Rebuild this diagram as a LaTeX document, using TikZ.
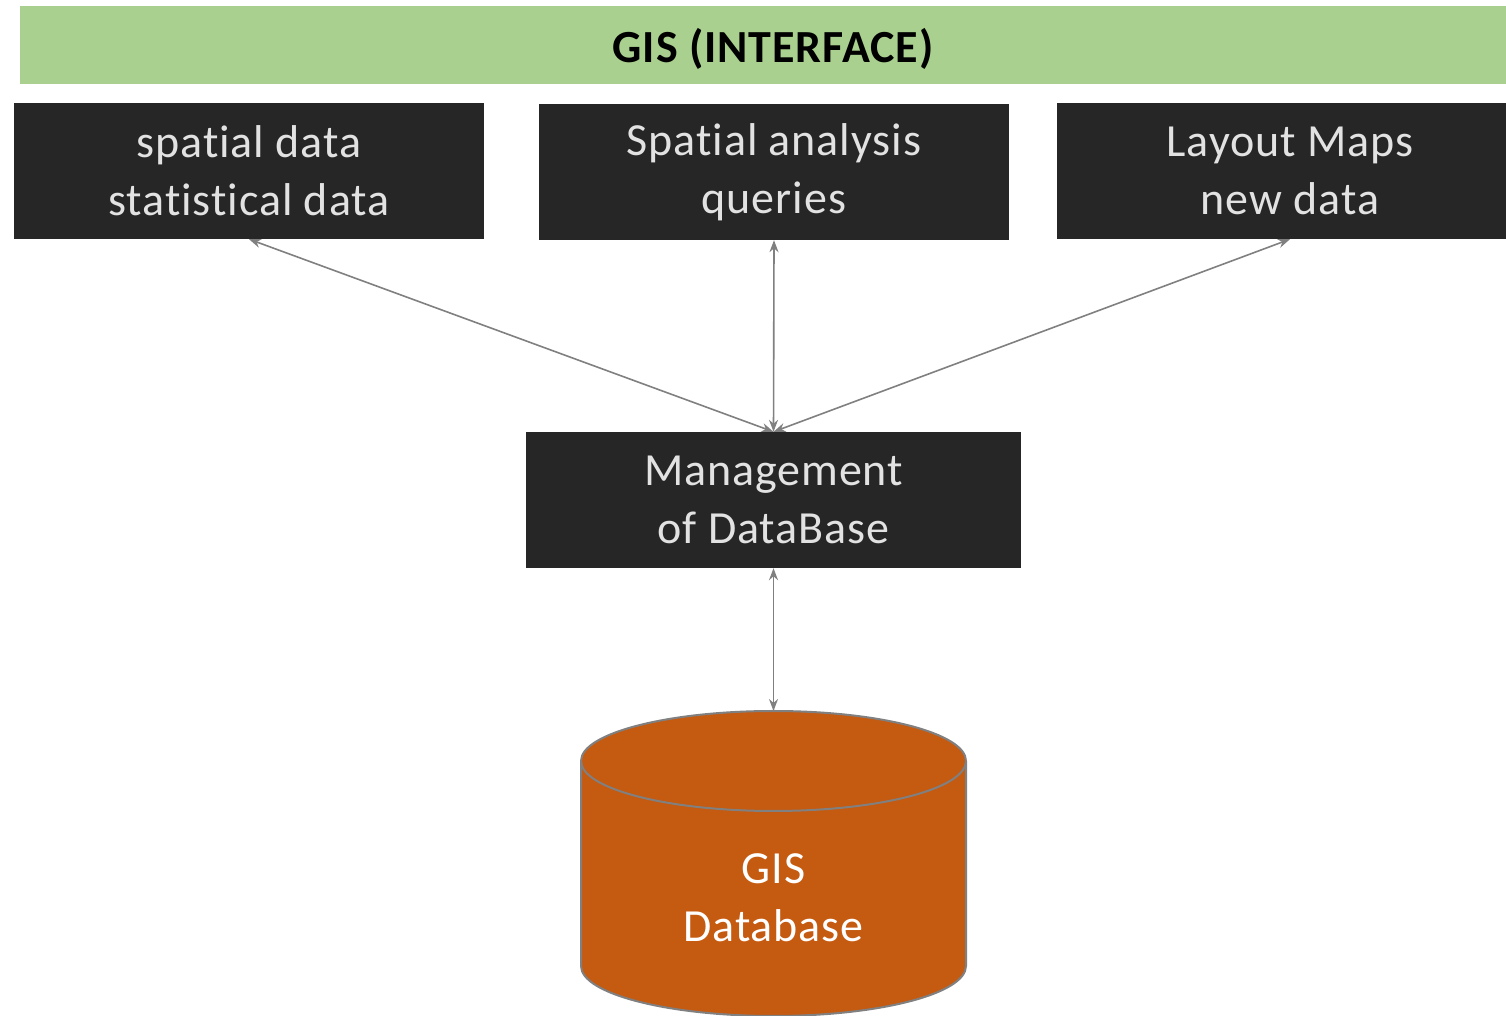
\documentclass[tikz,border=0pt]{standalone}
\usepackage{fontspec}
\setmainfont{Carlito}[Ligatures=NoCommon, LetterSpace=2]
\usetikzlibrary{arrows.meta}
\definecolor{barGreen}{HTML}{A9D08E}
\definecolor{boxDark}{HTML}{262626}
\definecolor{boxText}{HTML}{E2E2E2}
\definecolor{dbOrange}{HTML}{C55A11}
\definecolor{linkGray}{HTML}{808080}
\begin{document}
\begin{tikzpicture}[x=1pt,y=1pt,
  darkbox/.style={fill=boxDark, text=boxText, inner sep=0pt, align=center,
    font=\fontsize{46}{58}\selectfont},
  link/.style={draw=linkGray, line width=1.6pt,
    {Stealth[length=12pt,width=9pt]}-{Stealth[length=12pt,width=9pt]}}]
\useasboundingbox (0,0) rectangle (1506,1016);

% interface bar (runs off the right edge)
\node[fill=barGreen, minimum width=1506pt, minimum height=78pt, inner sep=0pt,
  text depth=0pt, font=\fontsize{46}{56}\selectfont\bfseries] (gis) at (773,971)
  {GIS (INTERFACE)};

% functional blocks
\node[darkbox, minimum width=470pt, minimum height=136pt] (data) at (249,845)
  {spatial data\\statistical data};
\node[darkbox, minimum width=470pt, minimum height=136pt] (analysis) at (774,844)
  {Spatial analysis\\queries};
\node[darkbox, minimum width=466pt, minimum height=136pt] (layout) at (1290,845)
  {Layout Maps\\new data};
\node[darkbox, minimum width=495pt, minimum height=136pt] (mgmt) at (773.5,516)
  {Management\\of DataBase};

% database cylinder
\fill[dbOrange, draw=linkGray, line width=2pt]
  (581,255) -- (581,50) arc[start angle=180, end angle=360, x radius=192.5pt, y radius=50pt]
  -- (966,255) arc[start angle=0, end angle=180, x radius=192.5pt, y radius=50pt] -- cycle;
\draw[linkGray, line width=2pt]
  (581,255) arc[start angle=180, end angle=360, x radius=192.5pt, y radius=50pt];
\coordinate (dbtop) at (773.5,305);
\node[text=white, align=center, font=\fontsize{46}{58}\selectfont] (db) at (773.5,118)
  {GIS\\Database};

% connectors
\draw[link] (mgmt.north) -- (data.south);
\draw[link] (mgmt.north) -- (analysis.south);
\draw[link] (mgmt.north) -- (layout.south);
\draw[link] (mgmt.south) -- (dbtop);
\end{tikzpicture}
\end{document}
